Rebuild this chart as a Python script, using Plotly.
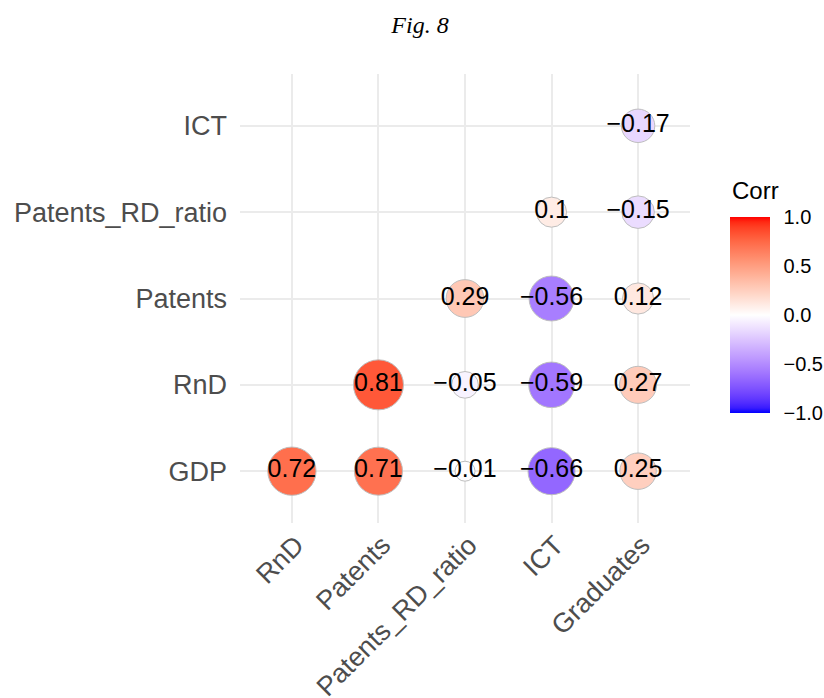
import numpy as np
import plotly.graph_objects as go

# Correlation matrix (lower triangle, diagonal removed)
x_vars = ["RnD", "Patents", "Patents_RD_ratio", "ICT", "Graduates"]
y_vars = ["GDP", "RnD", "Patents", "Patents_RD_ratio", "ICT"]
corr_rows = {
    "GDP":              [0.72, 0.71, -0.01, -0.66, 0.25],
    "RnD":              [None, 0.81, -0.05, -0.59, 0.27],
    "Patents":          [None, None, 0.29, -0.56, 0.12],
    "Patents_RD_ratio": [None, None, None, 0.10, -0.15],
    "ICT":              [None, None, None, None, -0.17],
}
legend_ticks = [-1.0, -0.5, 0.0, 0.5, 1.0]


# --- blue-white-red diverging scale interpolated in CIELAB ---
def _srgb_to_lin(c):
    c = c / 255.0
    return np.where(c <= 0.04045, c / 12.92, ((c + 0.055) / 1.055) ** 2.4)


def _lin_to_srgb(c):
    c = np.clip(c, 0, 1)
    v = np.where(c <= 0.0031308, 12.92 * c, 1.055 * c ** (1 / 2.4) - 0.055)
    return np.clip(np.round(v * 255), 0, 255).astype(int)


_M = np.array([[0.4124564, 0.3575761, 0.1804375],
               [0.2126729, 0.7151522, 0.0721750],
               [0.0193339, 0.1191920, 0.9503041]])
_WHITE = np.array([0.95047, 1.0, 1.08883])


def rgb_to_lab(rgb):
    xyz = _M @ _srgb_to_lin(np.array(rgb, float)) / _WHITE
    f = np.where(xyz > 216 / 24389, np.cbrt(xyz), (24389 / 27 * xyz + 16) / 116)
    return np.array([116 * f[1] - 16, 500 * (f[0] - f[1]), 200 * (f[1] - f[2])])


def lab_to_rgb(lab):
    L, a, b = lab
    fy = (L + 16) / 116
    fx = fy + a / 500
    fz = fy - b / 200
    f = np.array([fx, fy, fz])
    xyz = np.where(f ** 3 > 216 / 24389, f ** 3, (116 * f - 16) / (24389 / 27)) * _WHITE
    return _lin_to_srgb(np.linalg.solve(_M, xyz))


LOW, MID, HIGH = rgb_to_lab((0, 0, 255)), rgb_to_lab((255, 255, 255)), rgb_to_lab((255, 0, 0))


def corr_colour(v):
    if v < 0:
        lab = MID + (LOW - MID) * (-v)
    else:
        lab = MID + (HIGH - MID) * v
    r, g, b = lab_to_rgb(lab)
    return f"rgb({r},{g},{b})"


stops = np.linspace(-1, 1, 41)
colorscale = [[(s + 1) / 2, corr_colour(s)] for s in stops]

# --- long-form points ---
px, py, pv = [], [], []
for yname in y_vars:
    for xname, v in zip(x_vars, corr_rows[yname]):
        if v is not None:
            px.append(xname)
            py.append(yname)
            pv.append(v)
pv = np.array(pv)

# circle size: area-proportional mapping of |r| onto a 4..10 range
absr = np.abs(pv)
size_units = 4 + 6 * np.sqrt((absr - absr.min()) / (absr.max() - absr.min()))
diam = size_units * 5.0


def fmt(v):
    s = f"{round(v, 2):g}"
    return s.replace("-", "\u2212")


labels = [fmt(v) for v in pv]

SANS = "Liberation Sans, Arial, sans-serif"

# plot area in pixels: x 240..690, y 74..523
PLOT_L, PLOT_R, PLOT_T, PLOT_B = 240, 690, 74, 523
W_PX, H_PX = PLOT_R - PLOT_L, PLOT_B - PLOT_T
bar_top_px, bar_bottom_px, bar_left_px = 217, 413, 730

fig = go.Figure()
fig.add_trace(go.Scatter(
    x=px, y=py, mode="markers+text",
    text=labels, textposition="middle center",
    textfont=dict(family=SANS, size=25, color="black"),
    marker=dict(
        size=diam, color=pv, colorscale=colorscale, cmin=-1, cmax=1,
        line=dict(color="#bebebe", width=1), opacity=1,
        showscale=True,
        colorbar=dict(
            x=(bar_left_px - PLOT_L) / W_PX, xanchor="left", xref="paper",
            y=(PLOT_B - bar_bottom_px) / H_PX, yanchor="bottom", yref="paper",
            thickness=40, thicknessmode="pixels",
            len=bar_bottom_px - bar_top_px, lenmode="pixels",
            outlinewidth=0,
            tickvals=legend_ticks,
            ticktext=[f"{t:.1f}".replace("-", "\u2212") for t in legend_ticks],
            ticks="outside", ticklen=10, tickcolor="white", tickwidth=1,
            tickfont=dict(family=SANS, size=20, color="black"),
            ypad=0, xpad=0,
        ),
    ),
    hoverinfo="skip",
    cliponaxis=False,
    showlegend=False,
))

# legend title
fig.add_annotation(
    text="Corr", x=(bar_left_px - PLOT_L) / W_PX, y=(PLOT_B - 190) / H_PX,
    xref="paper", yref="paper", xanchor="left", yanchor="middle", showarrow=False,
    font=dict(family=SANS, size=24, color="black"),
)

axis_font = dict(family=SANS, size=27, color="#4d4d4d")
fig.update_layout(
    width=824, height=698,
    margin=dict(l=PLOT_L, r=824 - PLOT_R, t=PLOT_T, b=698 - PLOT_B, autoexpand=False),
    paper_bgcolor="white", plot_bgcolor="white",
    title=dict(text="<i>Fig. 8</i>", x=420 / 824, xref="container",
               y=1 - 25 / 698, yanchor="middle", xanchor="center",
               font=dict(family="Liberation Serif, Times New Roman, serif", size=24, color="black")),
    xaxis=dict(type="category", categoryorder="array", categoryarray=x_vars,
               range=[-0.6, len(x_vars) - 0.4], showgrid=True, gridcolor="#ebebeb", gridwidth=2,
               zeroline=False, showline=False, ticks="", tickangle=-45, tickfont=axis_font,
               ticklabelshift=4, automargin=False, fixedrange=True),
    yaxis=dict(type="category", categoryorder="array", categoryarray=y_vars,
               range=[-0.6, len(y_vars) - 0.4], showgrid=True, gridcolor="#ebebeb", gridwidth=2,
               zeroline=False, showline=False, ticks="", tickfont=axis_font,
               ticklabelstandoff=12, automargin=False, fixedrange=True),
)

fig.write_html("out.html")
